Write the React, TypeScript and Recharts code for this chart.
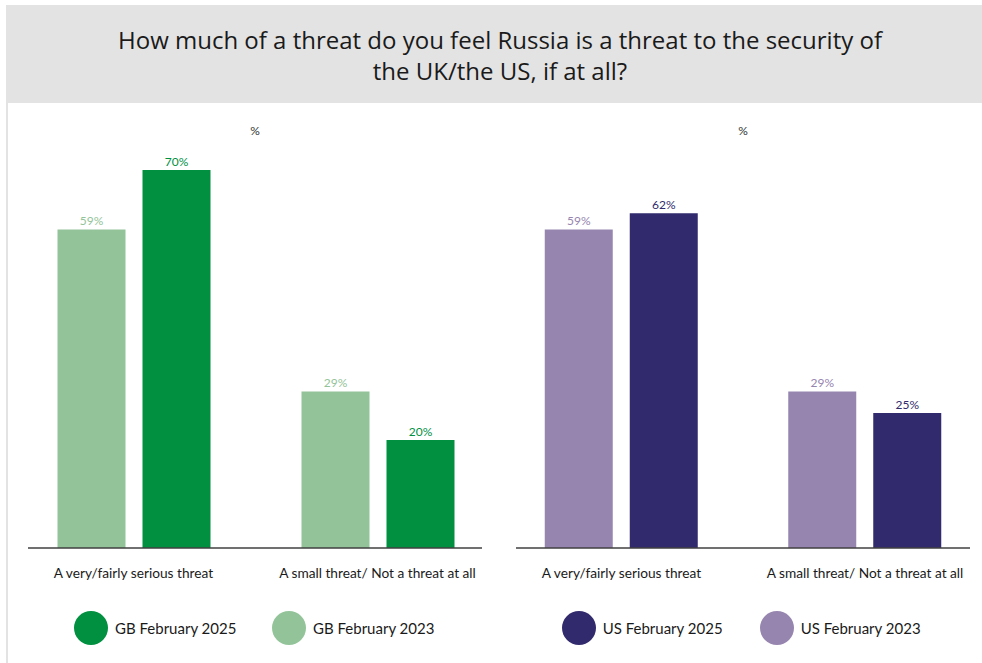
import React from 'react';
import { BarChart, Bar, XAxis, YAxis, LabelList, Legend } from 'recharts';

const categories = ['A very/fairly serious threat', 'A small threat/ Not a threat at all'];
const gb2023 = [59, 29];
const gb2025 = [70, 20];
const us2023 = [59, 29];
const us2025 = [62, 25];

const FONT = 'Lato, "Open Sans", sans-serif';
const TITLE_FONT = '"Open Sans", Lato, sans-serif';

const COLORS = {
  gbLight: '#93C499',
  gbDark: '#00903F',
  usLight: '#9685AF',
  usDark: '#312A6C',
};

type PanelProps = {
  left: number;
  lightValues: number[];
  darkValues: number[];
  lightName: string;
  darkName: string;
  lightColor: string;
  darkColor: string;
  marginLeft: number;
  marginRight: number;
  padLeft: number;
  padRight: number;
  legendLeft: number;
  pctX: number;
};

function makeLegend(items: { name: string; color: string }[], startLeft: number) {
  return () => (
    <div style={{ position: 'relative', height: 34, width: 491 }}>
      {items.map((it, i) => (
        <div
          key={it.name}
          style={{
            position: 'absolute',
            left: startLeft + i * 198,
            top: 0,
            height: 34,
            display: 'flex',
            alignItems: 'center',
            whiteSpace: 'nowrap',
          }}
        >
          <svg width={34} height={34} style={{ display: 'block' }}>
            <circle cx={17} cy={17} r={17} fill={it.color} />
          </svg>
          <span style={{ marginLeft: 7, fontFamily: FONT, fontSize: 15, color: '#1a1a1a' }}>{it.name}</span>
        </div>
      ))}
    </div>
  );
}

function Panel(p: PanelProps) {
  const data = categories.map((c, i) => ({ cat: c, light: p.lightValues[i], dark: p.darkValues[i] }));
  const legendItems = [
    { name: p.darkName, color: p.darkColor },
    { name: p.lightName, color: p.lightColor },
  ];
  return (
    <div style={{ position: 'absolute', left: p.left, top: 0, width: 491, height: 663 }}>
      <div
        style={{
          position: 'absolute',
          left: p.pctX - 10,
          width: 20,
          top: 123,
          textAlign: 'center',
          fontFamily: FONT,
          fontSize: 12,
          color: '#333',
        }}
      >
        %
      </div>
      <BarChart
        width={491}
        height={663}
        data={data}
        margin={{ top: 116, right: p.marginRight, bottom: 85, left: p.marginLeft }}
        barSize={68}
        barGap={17}
      >
        <YAxis hide domain={[0, 80]} type="number" />
        <XAxis
          dataKey="cat"
          height={30}
          padding={{ left: p.padLeft, right: p.padRight }}
          axisLine={{ stroke: '#404040', strokeWidth: 1.5 }}
          tickLine={false}
          tickSize={0}
          tickMargin={20}
          interval={0}
          tick={{ fontFamily: FONT, fontSize: 13.7, fill: '#1a1a1a' }}
        />
        <Legend
          layout="horizontal"
          verticalAlign="middle"
          align="center"
          wrapperStyle={{ top: 611, left: 0, width: 491 }}
          content={makeLegend(legendItems, p.legendLeft)}
        />
        <Bar dataKey="light" name={p.lightName} fill={p.lightColor} isAnimationActive={false}>
          <LabelList
            dataKey="light"
            position="top"
            offset={4}
            formatter={(v: any) => `${v}%`}
            style={{ fontFamily: FONT, fontSize: 12, fontWeight: 400, fill: p.lightColor }}
          />
        </Bar>
        <Bar dataKey="dark" name={p.darkName} fill={p.darkColor} isAnimationActive={false}>
          <LabelList
            dataKey="dark"
            position="top"
            offset={4}
            formatter={(v: any) => `${v}%`}
            style={{ fontFamily: FONT, fontSize: 12, fontWeight: 400, fill: p.darkColor }}
          />
        </Bar>
      </BarChart>
    </div>
  );
}

export default function App() {
  return (
    <div
      style={{
        position: 'absolute',
        left: 0,
        top: 0,
        width: 982,
        height: 663,
        background: '#fff',
        overflow: 'hidden',
        fontFamily: FONT,
      }}
    >
      <div style={{ position: 'absolute', left: 6, top: 5, width: 976, height: 98, background: '#E3E3E3' }} />
      <div style={{ position: 'absolute', left: 6, top: 103, width: 2, height: 560, background: '#E3E3E3' }} />
      <div
        style={{
          position: 'absolute',
          left: 0,
          top: 23.5,
          width: 1000,
          textAlign: 'center',
          fontFamily: TITLE_FONT,
          fontSize: 24,
          lineHeight: '31px',
          color: '#1a1a1a',
          whiteSpace: 'nowrap',
        }}
      >
        How much of a threat do you feel Russia is a threat to the security of
        <br />
        the UK/the US, if at all?
      </div>
      <Panel
        left={0}
        lightValues={gb2023}
        darkValues={gb2025}
        lightName="GB February 2023"
        darkName="GB February 2025"
        lightColor={COLORS.gbLight}
        darkColor={COLORS.gbDark}
        marginLeft={28}
        marginRight={9}
        padLeft={-16.5}
        padRight={-17.5}
        legendLeft={74}
        pctX={255}
      />
      <Panel
        left={491}
        lightValues={us2023}
        darkValues={us2025}
        lightName="US February 2023"
        darkName="US February 2025"
        lightColor={COLORS.usLight}
        darkColor={COLORS.usDark}
        marginLeft={25}
        marginRight={12}
        padLeft={-16.25}
        padRight={-16.75}
        legendLeft={70.7}
        pctX={252}
      />
    </div>
  );
}
